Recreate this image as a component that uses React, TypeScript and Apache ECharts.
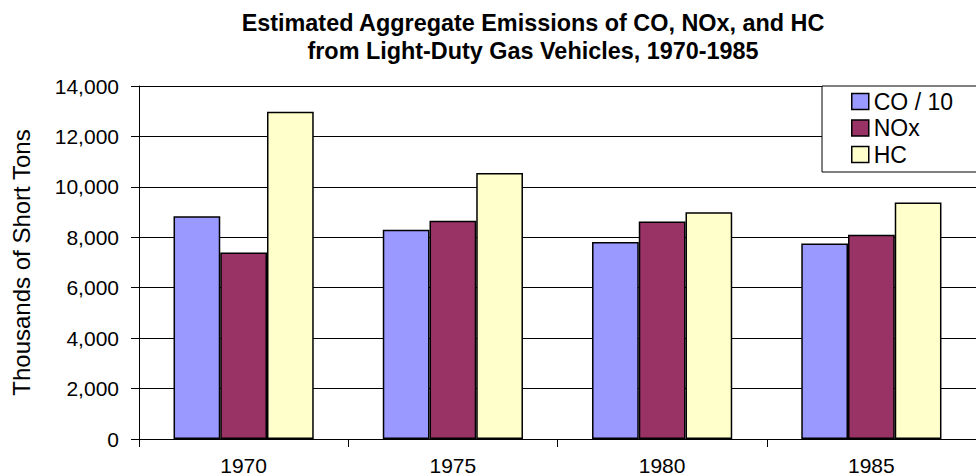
import React, { useEffect, useRef } from "react";
import * as echarts from "echarts";

const titleLines = [
  "Estimated Aggregate Emissions of CO, NOx, and HC",
  "from Light-Duty Gas Vehicles, 1970-1985",
];
const categories = ["1970", "1975", "1980", "1985"];
const seriesNames = ["CO / 10", "NOx", "HC"];
const coOver10 = [8830, 8300, 7815, 7750];
const nox = [7400, 8660, 8630, 8100];
const hc = [12980, 10550, 8990, 9380];
const colors = ["#9999FF", "#993366", "#FFFFCC"];
const yAxisName = "Thousands of Short Tons";

export default function App() {
  const ref = useRef<HTMLDivElement>(null);
  useEffect(() => {
    if (!ref.current) return;
    const chart = echarts.init(ref.current, null, { renderer: "svg" });
    const font = "Liberation Sans, Arial, sans-serif";
    const values = [coOver10, nox, hc];
    chart.setOption({
      animation: false,
      backgroundColor: "#ffffff",
      textStyle: { fontFamily: font },
      graphic: titleLines.map((t, i) => ({
        type: "text",
        x: 533,
        y: 23 + i * 27.5,
        style: {
          text: t,
          font: `bold 23.4px ${font}`,
          fill: "#000",
          align: "center",
          verticalAlign: "middle",
        },
      })),
      legend: {
        orient: "vertical",
        left: 822,
        top: 86,
        padding: [4, 80, 6, 29],
        itemGap: 3.5,
        itemWidth: 17,
        itemHeight: 16,
        backgroundColor: "#fff",
        borderColor: "#000",
        borderWidth: 1,
        borderRadius: 0,
        icon: "rect",
        itemStyle: { borderColor: "#000", borderWidth: 1.5 },
        textStyle: { fontSize: 23, lineHeight: 22, color: "#000", fontFamily: font },
        data: seriesNames,
      },
      grid: { left: 139, top: 86, width: 849, height: 354, containLabel: false },
      xAxis: {
        type: "category",
        data: categories,
        boundaryGap: true,
        axisLine: { lineStyle: { color: "#000", width: 1 } },
        axisTick: { show: true, length: 8, alignWithLabel: false, lineStyle: { color: "#000" } },
        axisLabel: { fontSize: 21, color: "#000", margin: 16, fontFamily: font },
        splitLine: { show: false },
      },
      yAxis: {
        type: "value",
        min: 0,
        max: 14000,
        interval: 2000,
        name: yAxisName,
        nameLocation: "middle",
        nameGap: 106,
        nameTextStyle: { fontSize: 24, color: "#000", fontFamily: font },
        axisLine: { show: true, lineStyle: { color: "#000", width: 1 } },
        axisTick: { show: true, length: 8, lineStyle: { color: "#000" } },
        axisLabel: {
          fontSize: 21,
          color: "#000",
          margin: 20,
          fontFamily: font,
          formatter: (v: number) => v.toLocaleString("en-US"),
        },
        splitLine: { show: true, lineStyle: { color: "#000", width: 1 } },
      },
      series: seriesNames.map((name, i) => ({
        name,
        type: "bar",
        data: values[i],
        barGap: "0%",
        barCategoryGap: "33%",
        itemStyle: { color: colors[i], borderColor: "#000", borderWidth: 1.5 },
      })),
    });
    return () => chart.dispose();
  }, []);
  return (
    <div
      ref={ref}
      style={{ position: "fixed", left: 0, top: 0, width: 976, height: 476 }}
    />
  );
}
